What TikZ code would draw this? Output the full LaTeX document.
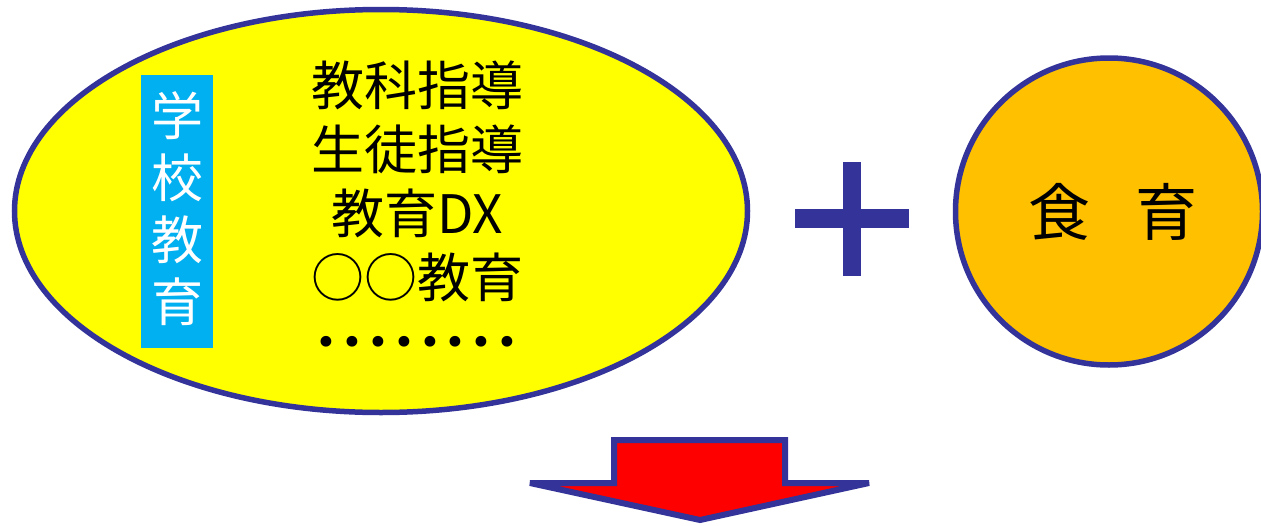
\documentclass[tikz,border=0pt]{standalone}
\usepackage{fontspec}
\setmainfont{Noto Sans CJK JP}
\newfontfamily\dejavu{DejaVu Sans}
\usetikzlibrary{shapes.geometric}
\definecolor{navyline}{HTML}{333399}
\definecolor{yel}{HTML}{FFFF00}
\definecolor{sky}{HTML}{00B0F0}
\definecolor{orng}{HTML}{FFC000}
\definecolor{arrred}{HTML}{FF0000}
\tikzset{
  outlined/.style={draw=navyline, line width=5.5pt},
  bigtext/.style={font=\fontsize{53}{64}\selectfont, align=center, inner sep=0pt},
}
\begin{document}
\begin{tikzpicture}[x=1pt,y=-1pt]
\useasboundingbox (0,0) rectangle (1261,525);
% school ellipse
\node[ellipse, outlined, fill=yel, minimum width=733pt, minimum height=403pt, inner sep=0pt] (school) at (381,211) {};
\node[fill=sky, minimum width=72pt, minimum height=273pt, inner sep=0pt] (tagbox) at (177,211.5) {};
\node[font=\fontsize{52}{62}\selectfont, text=white, align=center, inner sep=0pt] (taglabel) at (177,208.5) {学\\校\\教\\育};
\node[bigtext] (subjects) at (417,181.5) {教科指導\\生徒指導\\教育DX\\○○教育};
\node[font=\dejavu\fontsize{37}{40}\selectfont, inner sep=0pt] (dots) at (417,346) {•\hspace{4pt}•\hspace{4pt}•\hspace{4pt}•\hspace{4pt}•\hspace{4pt}•\hspace{4pt}•\hspace{4pt}•};
% plus
\fill[navyline] (843,162) rectangle (861,276);
\fill[navyline] (795,209) rectangle (909,228);
% food circle
\node[circle, outlined, fill=orng, minimum size=307pt, inner sep=0pt] (food) at (1109,211.5) {};
\node[font=\fontsize{62}{70}\selectfont, inner sep=0pt] (foodlabel) at (1113,212) {食\hspace{46pt}育};
% down arrow
\draw[navyline, line width=6pt, fill=arrred, line join=miter, miter limit=2] (614,440) -- (785,440) -- (785,483) -- (869,483) -- (700,520) -- (530,483) -- (614,483) -- cycle;
\end{tikzpicture}
\end{document}
